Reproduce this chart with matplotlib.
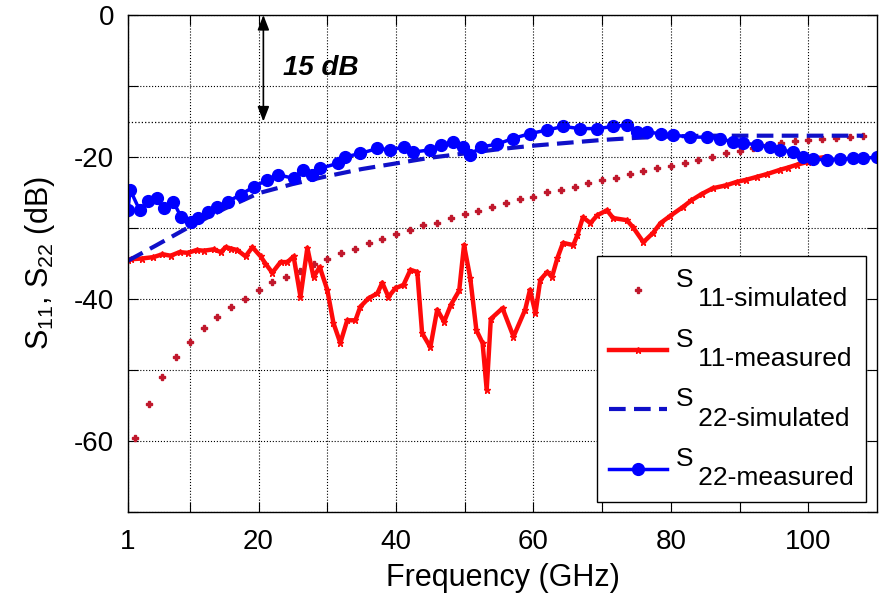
import matplotlib
matplotlib.use('Agg')
import matplotlib.pyplot as plt

plt.rcParams['font.family'] = ['Liberation Sans', 'DejaVu Sans']
plt.rcParams['mathtext.default'] = 'regular'

# S11 simulated (dots every 2 GHz)
s11_sim_f = list(range(2, 110, 2))
s11_sim_db = [-59.6, -54.8, -51.0, -48.2, -46.0, -44.1, -42.5, -41.1, -40.0, -38.7,
              -37.6, -36.9, -36.1, -35.1, -34.3, -33.5, -33.0, -32.1, -31.5, -30.8,
              -30.3, -29.6, -29.3, -28.6, -28.0, -27.6, -27.0, -26.5, -25.9, -25.6,
              -24.9, -24.6, -24.2, -23.7, -23.2, -22.9, -22.4, -22.0, -21.6, -21.3,
              -20.9, -20.4, -20.0, -19.5, -19.1, -18.7, -18.3, -18.0, -17.8, -17.6,
              -17.4, -17.3, -17.2, -17.1]

# S11 measured
s11_meas_f = [1.0, 1.4, 3.0, 4.7, 6.0, 7.2, 8.5, 9.7, 11.0, 12.0, 13.5, 14.5, 15.2, 16.0,
              16.9, 18.1, 19.1, 20.3, 21.0, 22.0, 23.2, 24.2, 25.1, 26.1, 27.1, 28.0,
              28.9, 30.0, 30.9, 31.9, 32.9, 34.1, 34.8, 36.0, 37.3, 38.0, 38.9, 39.9,
              41.1, 42.1, 43.1, 43.8, 45.0, 46.0, 47.0, 48.0, 49.2, 49.9, 50.8, 51.7,
              52.6, 53.2, 53.8, 55.5, 57.1, 58.8, 59.5, 60.3, 61.0, 62.0, 62.7, 63.5,
              64.3, 65.8, 66.4, 67.2, 68.3, 69.3, 70.7, 71.6, 73.6, 74.5, 76.0, 77.4,
              78.5, 79.9, 81.8, 83.0, 84.5, 86.1, 88.0, 89.6, 91.0, 92.5, 94.0, 95.9,
              97.0, 98.3, 99.9, 101.0, 102.5]
s11_meas_db = [-34.5, -34.4, -34.3, -34.1, -33.7, -33.9, -33.4, -33.5, -33.1, -33.2, -33.0,
               -33.4, -32.7, -32.9, -33.1, -34.0, -32.7, -34.0, -35.0, -36.3, -34.8, -34.8,
               -34.0, -39.7, -32.8, -36.9, -35.5, -38.7, -43.4, -46.2, -43.0, -43.0, -41.1,
               -39.9, -39.2, -37.7, -39.7, -38.5, -38.0, -35.9, -36.2, -44.8, -46.8, -41.5,
               -43.2, -40.8, -38.8, -32.4, -37.0, -44.4, -46.2, -52.8, -42.8, -41.3, -45.3,
               -41.5, -38.7, -42.0, -37.3, -36.2, -36.9, -34.2, -32.1, -32.4, -31.0, -28.5,
               -29.3, -28.2, -27.5, -28.6, -28.9, -29.9, -32.0, -30.7, -29.3, -28.3, -27.0,
               -26.1, -25.2, -24.4, -24.0, -23.5, -23.2, -22.8, -22.4, -21.8, -21.5, -21.1,
               -20.7, -20.2, -20.0]

# S22 simulated
s22_sim_f = [1, 5, 10, 15, 20, 25, 30, 35, 40, 45, 50, 55, 60, 65, 70, 75, 80, 85, 90,
             95, 100, 105, 108]
s22_sim_db = [-34.6, -32.5, -29.8, -27.3, -25.1, -23.8, -22.7, -21.7, -20.9, -20.1, -19.5,
              -18.9, -18.4, -18.0, -17.6, -17.3, -17.1, -17.0, -17.0, -17.0, -17.0, -17.0,
              -17.0]

# S22 measured
s22_meas_f = [1.0, 1.3, 2.7, 3.9, 5.2, 6.2, 7.6, 8.7, 10.1, 11.2, 12.6, 14.0, 15.5, 17.4,
              19.3, 21.3, 22.8, 25.1, 26.4, 27.8, 29.0, 31.5, 32.6, 34.8, 37.3, 39.2, 41.1,
              42.5, 45.0, 46.5, 48.3, 49.8, 50.8, 52.3, 54.7, 57.0, 59.5, 62.0, 64.3, 66.8,
              69.3, 71.6, 73.6, 75.1, 76.5, 78.5, 80.3, 82.8, 85.3, 87.2, 89.0, 90.5, 92.5,
              94.4, 95.9, 97.8, 99.2, 100.7, 102.7, 104.6, 106.5, 108.0, 110.0]
s22_meas_db = [-27.5, -24.6, -27.5, -26.2, -25.8, -27.2, -26.3, -28.4, -29.2, -28.6, -27.7,
               -27.0, -26.3, -25.3, -24.2, -23.2, -22.5, -23.0, -21.8, -22.5, -21.6, -20.9,
               -20.0, -19.5, -18.8, -19.0, -18.6, -19.3, -19.0, -18.3, -17.9, -18.6, -19.7,
               -18.6, -18.2, -17.4, -16.7, -16.2, -15.7, -16.0, -16.0, -15.7, -15.5, -16.5,
               -16.5, -16.7, -16.9, -17.2, -17.2, -17.4, -17.9, -18.0, -18.3, -18.6, -19.0,
               -19.3, -20.0, -20.3, -20.4, -20.3, -20.2, -20.2, -20.0]

xticks = [1, 10, 20, 30, 40, 50, 60, 70, 80, 90, 100]
xtick_labels = ['1', '', '20', '', '40', '', '60', '', '80', '', '100']
yticks = [-70, -60, -50, -40, -30, -20, -10, 0]
ytick_labels = ['', '-60', '', '-40', '', '-20', '', '0']

fig = plt.figure(figsize=(8.81, 6.05), dpi=100)
ax = fig.add_axes([128 / 881, 93 / 605, 749 / 881, 497 / 605])

ax.plot(s11_sim_f, s11_sim_db, linestyle='none', marker='P', markersize=4,
        color='#c0182c', label='S\n   11-simulated')
ax.plot(s11_meas_f, s11_meas_db, '-', color='#ff0a0a', lw=3.2, marker='*', markersize=5,
        label='S\n   11-measured')
ax.plot(s22_sim_f, s22_sim_db, '--', color='#1010c8', lw=3, dashes=(4, 2),
        label='S\n   22-simulated')
ax.plot(s22_meas_f, s22_meas_db, '-', color='#0000ff', lw=2.5, marker='o', markersize=8.5,
        label='S\n   22-measured')

ax.axhline(-15, color='black', linestyle=':', lw=0.9)

# 15 dB arrow
ax.annotate('', xy=(20.7, 0), xytext=(20.7, -15),
            arrowprops=dict(arrowstyle='<|-|>,head_length=0.9,head_width=0.35',
                            color='black', lw=1.2, shrinkA=0, shrinkB=0),
            annotation_clip=False)
ax.text(23.5, -7.4, '15 dB', fontsize=20, fontweight='bold', fontstyle='italic',
        va='center', ha='left')

ax.set_xlim(1, 110)
ax.set_ylim(-70, 0)
ax.set_xticks(xticks)
ax.set_xticklabels(xtick_labels)
ax.set_yticks(yticks)
ax.set_yticklabels(ytick_labels)
ax.tick_params(direction='in', top=True, right=True, length=7, labelsize=20)
ax.tick_params(axis='x', pad=12)
ax.tick_params(axis='y', pad=10)
ax.grid(True, linestyle=':', color='black', lw=0.8)
for s in ax.spines.values():
    s.set_linewidth(1.0)

ax.set_xlabel('Frequency (GHz)', fontsize=22, labelpad=6)
ax.set_ylabel('S$_{11}$, S$_{22}$ (dB)', fontsize=22, labelpad=12)

leg = ax.legend(loc='lower right', bbox_to_anchor=(0.985, 0.02), borderaxespad=0,
                fontsize=19, fancybox=False, edgecolor='black', framealpha=1,
                handlelength=2.2, handletextpad=0.35, labelspacing=0.62, borderpad=0.45)
leg.get_frame().set_linewidth(1.0)
for t in leg.get_texts():
    t.set_linespacing(0.75)

fig.savefig('out.png', dpi=100)
